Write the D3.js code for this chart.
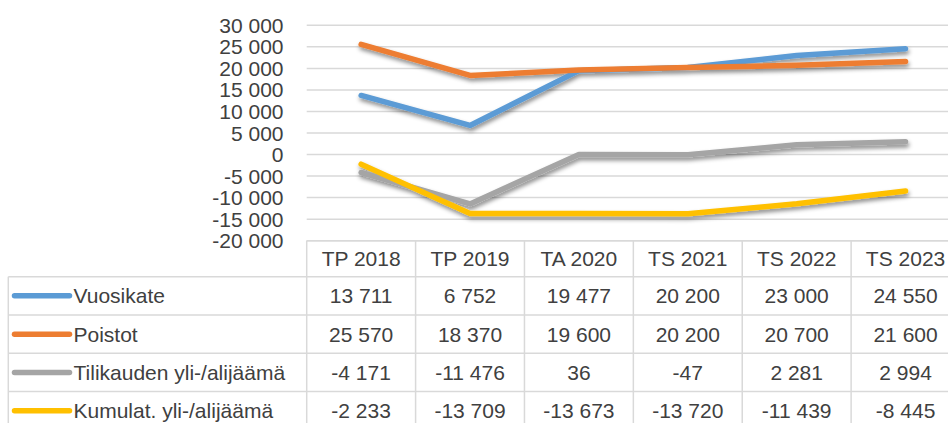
<!DOCTYPE html>
<html>
<head>
<meta charset="utf-8">
<script src="https://cdn.jsdelivr.net/npm/d3@7"></script>
<style>
  body { margin: 0; background: #fff; }
  text { font-family: "Liberation Sans", Arial, sans-serif; fill: #404040; }
</style>
</head>
<body>
<svg width="948" height="423"></svg>
<script>
var categories = ['TP 2018', 'TP 2019', 'TA 2020', 'TS 2021', 'TS 2022', 'TS 2023'];
var seriesNames = ['Vuosikate', 'Poistot', 'Tilikauden yli-/alijäämä', 'Kumulat. yli-/alijäämä'];
var seriesColors = ['#5b9bd5', '#ed7d31', '#a5a5a5', '#ffc000'];
var vuosikate = [13711, 6752, 19477, 20200, 23000, 24550];
var poistot = [25570, 18370, 19600, 20200, 20700, 21600];
var tilikauden = [-4171, -11476, 36, -47, 2281, 2994];
var kumulat = [-2233, -13709, -13673, -13720, -11439, -8445];
var yTicks = [30000, 25000, 20000, 15000, 10000, 5000, 0, -5000, -10000, -15000, -20000];

var series = [vuosikate, poistot, tilikauden, kumulat].map(function(vals, i) {
    return { name: seriesNames[i], color: seriesColors[i], values: vals };
});

var fi = d3.formatLocale({ decimal: ',', thousands: ' ', grouping: [3], currency: ['', ''], minus: '-' });
var fmt = fi.format(',d');

var svg = d3.select('svg');

// plot box (the bottom of the plot is also the top of the data table)
var plotLeft = 306.7, plotRight = 960, plotTop = 25.3, plotBottom = 240.7;
var headerH = 36, rowH = 38.3, legendLeft = 8.3;

var scaleX = d3.scaleBand().domain(categories).range([plotLeft, plotRight]);
var scaleY = d3.scaleLinear().domain([-20000, 30000]).range([plotBottom, plotTop]);

var defs = svg.append('defs');
var shadow = defs.append('filter').attr('id', 'shadow')
    .attr('x', '-10%').attr('y', '-30%').attr('width', '120%').attr('height', '160%');
shadow.append('feDropShadow')
    .attr('dx', 1).attr('dy', 3).attr('stdDeviation', 2)
    .attr('flood-color', '#000').attr('flood-opacity', 0.45);

// gridlines
svg.append('g')
    .selectAll('line')
    .data(yTicks)
    .enter()
    .append('line')
    .attr('x1', plotLeft)
    .attr('x2', 948)
    .attr('y1', function(d){ return scaleY(d) })
    .attr('y2', function(d){ return scaleY(d) })
    .attr('stroke', '#d9d9d9')
    .attr('stroke-width', 1.5);

// y labels
svg.append('g')
    .selectAll('text')
    .data(yTicks)
    .enter()
    .append('text')
    .attr('x', 283.5)
    .attr('y', function(d){ return scaleY(d) })
    .attr('dy', '0.36em')
    .attr('text-anchor', 'end')
    .attr('font-size', 21)
    .text(function(d){ return fmt(d) });

// lines
var line = d3.line()
    .x(function(d, i){ return scaleX(categories[i]) + scaleX.bandwidth() / 2 })
    .y(function(d){ return scaleY(d) });

svg.append('g')
    .attr('filter', 'url(#shadow)')
    .selectAll('path')
    .data(series)
    .enter()
    .append('path')
    .attr('d', function(d){ return line(d.values) })
    .attr('fill', 'none')
    .attr('stroke', function(d){ return d.color })
    .attr('stroke-width', 5.5)
    .attr('stroke-linecap', 'round')
    .attr('stroke-linejoin', 'round');

// data table
var table = svg.append('g');
var gridColor = '#d9d9d9';
var tableBottom = plotBottom + headerH + rowH * series.length;

// horizontal lines
table.append('line')
    .attr('x1', plotLeft).attr('x2', 948)
    .attr('y1', plotBottom).attr('y2', plotBottom)
    .attr('stroke', gridColor).attr('stroke-width', 1.5);
series.forEach(function(s, i) {
    var y = plotBottom + headerH + rowH * i;
    table.append('line')
        .attr('x1', legendLeft).attr('x2', 948)
        .attr('y1', y).attr('y2', y)
        .attr('stroke', gridColor).attr('stroke-width', 1.5);
});

// vertical lines
table.append('line')
    .attr('x1', legendLeft).attr('x2', legendLeft)
    .attr('y1', plotBottom + headerH).attr('y2', tableBottom)
    .attr('stroke', gridColor).attr('stroke-width', 1.5);
table.selectAll('line.col')
    .data(categories)
    .enter()
    .append('line')
    .attr('class', 'col')
    .attr('x1', function(d){ return scaleX(d) })
    .attr('x2', function(d){ return scaleX(d) })
    .attr('y1', plotBottom).attr('y2', tableBottom)
    .attr('stroke', gridColor).attr('stroke-width', 1.5);

// header labels
table.selectAll('text.head')
    .data(categories)
    .enter()
    .append('text')
    .attr('class', 'head')
    .attr('x', function(d){ return scaleX(d) + scaleX.bandwidth() / 2 })
    .attr('y', plotBottom + headerH / 2)
    .attr('dy', '0.36em')
    .attr('text-anchor', 'middle')
    .attr('font-size', 21)
    .text(function(d){ return d });

// rows
var rows = table.selectAll('g.row')
    .data(series)
    .enter()
    .append('g')
    .attr('class', 'row')
    .attr('transform', function(d, i){ return 'translate(0,' + (plotBottom + headerH + rowH * i + rowH / 2) + ')' });

rows.append('line')
    .attr('x1', 14.5).attr('x2', 69.5)
    .attr('y1', 0).attr('y2', 0)
    .attr('stroke', function(d){ return d.color })
    .attr('stroke-width', 5.5)
    .attr('stroke-linecap', 'round');

rows.append('text')
    .attr('x', 73.5)
    .attr('dy', '0.36em')
    .attr('font-size', 21)
    .text(function(d){ return d.name });

rows.selectAll('text.val')
    .data(function(d){ return d.values })
    .enter()
    .append('text')
    .attr('class', 'val')
    .attr('x', function(d, i){ return scaleX(categories[i]) + scaleX.bandwidth() / 2 })
    .attr('dy', '0.36em')
    .attr('text-anchor', 'middle')
    .attr('font-size', 21)
    .text(function(d){ return fmt(d) });
</script>
</body>
</html>
